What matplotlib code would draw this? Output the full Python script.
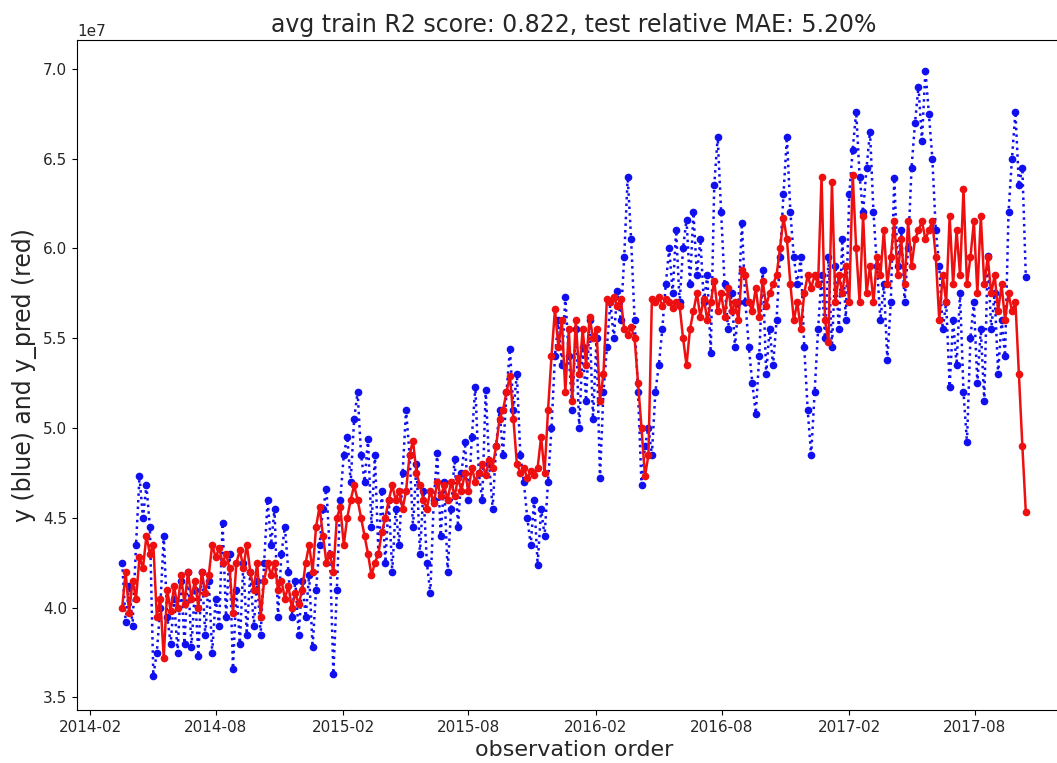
import numpy as np
import pandas as pd
import matplotlib
matplotlib.use("Agg")
import matplotlib.pyplot as plt

# values in units of 1e7, one reading every 5 days
y_true = [
    4.25, 3.92, 4.12, 3.90, 4.35, 4.73, 4.50, 4.68, 4.45, 3.62,
    3.75, 4.00, 4.40, 3.95, 3.80, 4.05, 3.75, 4.15, 3.80, 4.20,
    3.78, 4.10, 3.73, 4.20, 3.85, 4.15, 3.75, 4.05, 3.90, 4.47,
    3.95, 4.30, 3.66, 4.10, 3.80, 4.25, 3.85, 4.20, 3.90, 4.15,
    3.85, 4.25, 4.60, 4.35, 4.55, 3.95, 4.30, 4.45, 4.20, 3.95,
    4.15, 3.85, 4.15, 3.95, 4.18, 3.78, 4.10, 4.35, 4.55, 4.66,
    4.30, 3.63, 4.10, 4.60, 4.85, 4.95, 4.70, 5.05, 5.20, 4.85,
    4.70, 4.94, 4.45, 4.85, 4.30, 4.65, 4.25, 4.60, 4.20, 4.55,
    4.35, 4.75, 5.10, 4.85, 4.45, 4.80, 4.30, 4.65, 4.25, 4.08,
    4.60, 4.86, 4.40, 4.70, 4.20, 4.55, 4.83, 4.45, 4.75, 4.92,
    4.60, 4.95, 5.23, 4.75, 4.60, 5.21, 4.80, 4.55, 4.90, 5.10,
    4.85, 5.20, 5.44, 5.10, 5.30, 4.85, 4.70, 4.50, 4.35, 4.60,
    4.24, 4.55, 4.40, 4.70, 5.00, 5.40, 5.60, 5.35, 5.73, 5.40,
    5.10, 5.55, 5.00, 5.45, 5.15, 5.60, 5.05, 5.50, 4.72, 5.20,
    5.45, 5.70, 5.50, 5.76, 5.60, 5.95, 6.40, 6.05, 5.60, 5.20,
    4.68, 4.90, 5.00, 4.85, 5.20, 5.35, 5.55, 5.80, 6.00, 5.75,
    6.10, 5.70, 6.00, 6.16, 5.80, 6.20, 5.85, 6.05, 5.70, 5.85,
    5.42, 6.35, 6.62, 6.20, 5.80, 5.55, 5.75, 5.45, 5.70, 6.14,
    5.70, 5.45, 5.25, 5.08, 5.40, 5.88, 5.30, 5.55, 5.35, 5.60,
    5.95, 6.30, 6.62, 6.20, 5.95, 5.80, 5.95, 5.45, 5.10, 4.85,
    5.20, 5.55, 5.85, 5.50, 5.95, 5.45, 5.90, 5.55, 6.05, 5.60,
    6.30, 6.55, 6.76, 6.40, 6.20, 6.45, 6.65, 6.20, 5.90, 5.60,
    5.80, 5.38, 5.70, 6.39, 5.90, 6.10, 5.70, 6.00, 6.45, 6.70,
    6.90, 6.60, 6.99, 6.75, 6.50, 6.10, 5.90, 5.55, 5.70, 5.23,
    5.60, 5.35, 5.75, 5.20, 4.92, 5.50, 5.70, 5.25, 5.55, 5.15,
    5.96, 5.55, 5.75, 5.30, 5.60, 5.40, 6.20, 6.50, 6.76, 6.35,
    6.45, 5.84,
]

y_pred = [
    4.00, 4.20, 3.97, 4.15, 4.05, 4.28, 4.22, 4.40, 4.30, 4.35,
    3.95, 4.05, 3.72, 4.10, 3.98, 4.12, 4.00, 4.18, 4.02, 4.20,
    4.05, 4.15, 4.00, 4.20, 4.08, 4.18, 4.35, 4.28, 4.33, 4.25,
    4.30, 4.22, 3.97, 4.25, 4.32, 4.22, 4.35, 4.20, 4.10, 4.25,
    3.95, 4.15, 4.25, 4.18, 4.25, 4.10, 4.15, 4.05, 4.12, 4.00,
    4.08, 4.02, 4.10, 4.25, 4.35, 4.20, 4.45, 4.56, 4.40, 4.25,
    4.30, 4.20, 4.50, 4.56, 4.35, 4.50, 4.60, 4.68, 4.60, 4.50,
    4.40, 4.30, 4.18, 4.25, 4.30, 4.42, 4.50, 4.60, 4.68, 4.60,
    4.65, 4.55, 4.65, 4.85, 4.93, 4.75, 4.68, 4.60, 4.55, 4.65,
    4.58, 4.70, 4.62, 4.68, 4.60, 4.70, 4.62, 4.72, 4.65, 4.75,
    4.65, 4.78, 4.70, 4.75, 4.80, 4.74, 4.82, 4.78, 4.90, 5.05,
    5.10, 5.20, 5.29, 5.05, 4.80, 4.75, 4.78, 4.72, 4.76, 4.74,
    4.78, 4.95, 4.75, 5.10, 5.40, 5.66, 5.45, 5.60, 5.20, 5.55,
    5.15, 5.60, 5.30, 5.55, 5.35, 5.62, 5.50, 5.55, 5.15, 5.30,
    5.72, 5.70, 5.73, 5.68, 5.72, 5.55, 5.52, 5.56, 5.50, 5.25,
    5.00, 4.73, 4.85, 5.72, 5.70, 5.73, 5.68, 5.72, 5.70, 5.67,
    5.70, 5.68, 5.50, 5.35, 5.55, 5.65, 5.75, 5.62, 5.72, 5.60,
    5.70, 5.82, 5.65, 5.75, 5.62, 5.78, 5.65, 5.70, 5.60, 5.88,
    5.85, 5.70, 5.65, 5.78, 5.62, 5.82, 5.68, 5.75, 5.80, 5.85,
    6.00, 6.17, 6.05, 5.80, 5.60, 5.70, 5.55, 5.75, 5.85, 5.78,
    5.85, 5.80, 6.40, 5.60, 5.48, 6.37, 5.70, 5.85, 5.75, 5.90,
    5.70, 6.41, 6.00, 5.70, 6.18, 5.75, 5.90, 5.70, 5.95, 5.85,
    6.10, 5.80, 5.95, 6.15, 5.85, 6.05, 5.80, 6.15, 5.90, 6.05,
    6.10, 6.15, 6.05, 6.10, 6.15, 5.95, 5.60, 5.85, 5.70, 6.18,
    5.80, 6.10, 5.85, 6.33, 5.80, 5.95, 6.15, 5.75, 6.18, 5.80,
    5.95, 5.75, 5.85, 5.65, 5.80, 5.60, 5.75, 5.65, 5.70, 5.30,
    4.90, 4.53,
]

tick_dates = ["2014-02-01", "2014-08-01", "2015-02-01", "2015-08-01",
              "2016-02-01", "2016-08-01", "2017-02-01", "2017-08-01"]
tick_labels = ["2014-02", "2014-08", "2015-02", "2015-08",
               "2016-02", "2016-08", "2017-02", "2017-08"]

dates = pd.date_range("2014-03-19", periods=len(y_true), freq="5D")
y_true = np.array(y_true) * 1e7
y_pred = np.array(y_pred) * 1e7

fig = plt.figure(figsize=(10.57, 7.63), dpi=100)
ax = fig.add_axes([77 / 1057, 53 / 763, 994 / 1057, 670 / 763])
ax.plot(dates, y_true, ".:", color="#1010ee", markersize=9, linewidth=1.8)
ax.plot(dates, y_pred, ".-", color="#ee1010", markersize=9, linewidth=1.8)
ax.set_ylim(3.43e7, 7.16e7)
ax.set_yticks([3.5e7, 4.0e7, 4.5e7, 5.0e7, 5.5e7, 6.0e7, 6.5e7, 7.0e7])
ax.set_xticks(pd.to_datetime(tick_dates))
ax.set_xticklabels(tick_labels)
ax.tick_params(labelsize=11, labelcolor="#262626")
ax.yaxis.get_offset_text().set_fontsize(11)
ax.set_title("avg train R2 score: 0.822, test relative MAE: 5.20%",
             fontsize=17, color="#262626")
ax.set_xlabel("observation order", fontsize=16, color="#262626")
ax.set_ylabel("y (blue) and y_pred (red)", fontsize=17, color="#262626")
fig.savefig("out.png", dpi=100)
